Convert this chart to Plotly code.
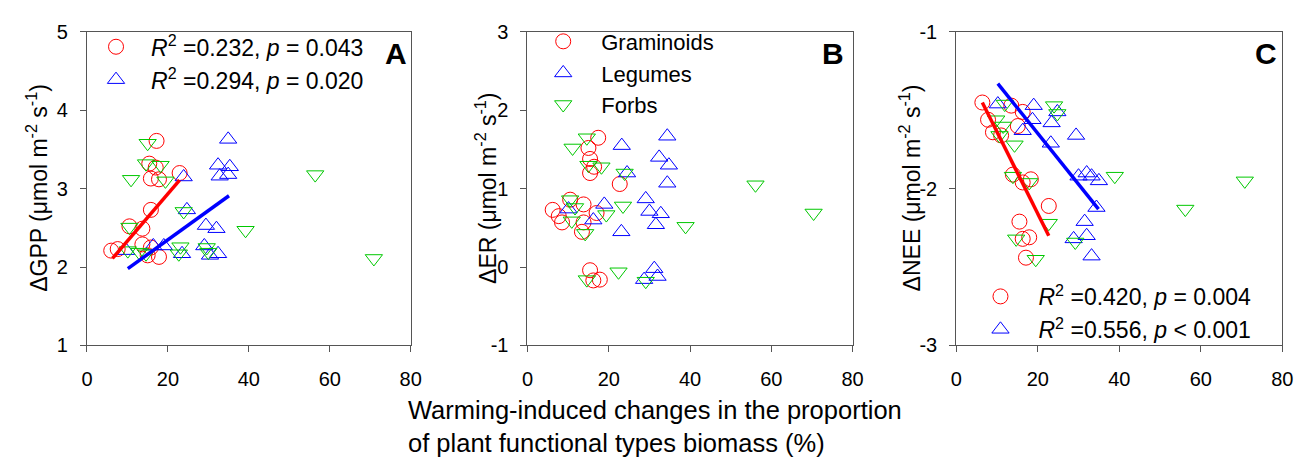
import plotly.graph_objects as go

# ---------------- data ----------------
x_ticks = [0, 20, 40, 60, 80]
x_ticklabels = ["0", "20", "40", "60", "80"]
yA_ticks = [1, 2, 3, 4, 5]
yA_labels = ["1", "2", "3", "4", "5"]
yB_ticks = [-1, 0, 1, 2, 3]
yB_labels = ["-1", "0", "1", "2", "3"]
yC_ticks = [-3, -2, -1]
yC_labels = ["-3", "-2", "-1"]

# Panel A: GPP
gram_x_A = [17.2, 15.4, 17.0, 15.8, 17.8, 22.9, 15.8, 10.5, 13.7, 6.0, 7.6, 13.7, 15.8, 17.8, 15.0]
gram_y_A = [3.61, 3.32, 3.27, 3.13, 3.12, 3.20, 2.73, 2.52, 2.49, 2.21, 2.23, 2.29, 2.25, 2.13, 2.15]
leg_x_A = [34.9, 32.4, 35.3, 34.9, 32.8, 23.9, 24.7, 29.4, 32.0, 29.0, 30.4, 32.4, 23.5, 19.0, 16.4, 9.7]
leg_y_A = [3.63, 3.30, 3.28, 3.18, 3.16, 3.15, 2.73, 2.53, 2.49, 2.27, 2.15, 2.17, 2.17, 2.27, 2.27, 2.21]
forb_x_A = [15.0, 14.6, 18.2, 10.9, 19.4, 23.9, 10.5, 10.1, 12.9, 14.6, 23.1, 29.6, 39.2, 56.4, 70.9, 22.7, 30.0]
forb_y_A = [3.58, 3.32, 3.30, 3.12, 3.10, 2.71, 2.51, 2.21, 2.19, 2.17, 2.26, 2.25, 2.47, 3.18, 2.11, 2.17, 2.19]

# Panel B: ER
gram_x_B = [17.4, 15.0, 15.4, 16.4, 15.4, 22.7, 6.2, 7.7, 8.5, 10.5, 13.8, 13.8, 13.4, 15.4, 16.2, 17.8, 17.0]
gram_y_B = [1.65, 1.52, 1.38, 1.28, 1.20, 1.06, 0.73, 0.65, 0.57, 0.86, 0.80, 0.57, 0.45, -0.04, -0.17, -0.16, 0.69]
leg_x_B = [34.4, 23.2, 32.4, 34.8, 24.5, 34.4, 29.1, 30.0, 32.8, 31.6, 23.1, 18.9, 16.2, 10.1, 31.2, 32.0, 28.7]
leg_y_B = [1.67, 1.55, 1.40, 1.30, 1.20, 1.07, 0.87, 0.71, 0.68, 0.54, 0.45, 0.80, 0.60, 0.74, -0.02, -0.12, -0.16]
forb_x_B = [14.6, 11.1, 18.2, 23.9, 23.5, 38.9, 56.1, 70.4, 10.5, 11.7, 10.9, 14.2, 19.4, 14.6, 22.4, 29.1, 15.0]
forb_y_B = [1.65, 1.52, 1.28, 1.20, 0.78, 0.52, 1.05, 0.69, 0.86, 0.76, 0.59, 0.43, 0.67, -0.16, -0.06, -0.18, 1.30]

# Panel C: NEE
gram_x_C = [6.4, 7.8, 9.0, 11.0, 13.5, 16.3, 15.1, 13.9, 16.3, 18.3, 22.7, 15.5, 16.3, 17.9, 17.1]
gram_y_C = [-1.45, -1.56, -1.64, -1.66, -1.47, -1.51, -1.60, -1.91, -1.96, -1.94, -2.11, -2.21, -2.32, -2.31, -2.44]
leg_x_C = [10.2, 19.0, 24.8, 18.7, 16.3, 23.4, 29.4, 23.2, 30.0, 32.0, 33.2, 35.0, 34.4, 31.5, 32.0, 28.8, 33.2]
leg_y_C = [-1.46, -1.47, -1.51, -1.56, -1.63, -1.58, -1.66, -1.71, -1.92, -1.90, -1.92, -1.95, -2.12, -2.21, -2.30, -2.32, -2.43]
forb_x_C = [11.9, 24.0, 24.8, 9.8, 11.5, 10.6, 14.3, 13.9, 17.9, 38.9, 70.8, 56.2, 22.7, 14.7, 29.2, 19.5]
forb_y_C = [-1.46, -1.47, -1.52, -1.56, -1.60, -1.66, -1.72, -1.92, -1.96, -1.92, -1.95, -2.13, -2.22, -2.32, -2.34, -2.45]

# regression lines (end points)
fitA_gram_x = [6.3, 22.9]
fitA_gram_y = [2.11, 3.11]
fitA_leg_x = [10.1, 35.1]
fitA_leg_y = [1.98, 2.91]
fitC_gram_x = [6.4, 22.7]
fitC_gram_y = [-1.45, -2.30]
fitC_leg_x = [10.2, 34.9]
fitC_leg_y = [-1.33, -2.13]

statsA = ["<i>R</i><sup>2</sup> =0.232, <i>p</i> = 0.043", "<i>R</i><sup>2</sup> =0.294, <i>p</i> = 0.020"]
statsC = ["<i>R</i><sup>2</sup> =0.420, <i>p</i> = 0.004", "<i>R</i><sup>2</sup> =0.556, <i>p</i> &lt; 0.001"]
group_names = ["Graminoids", "Legumes", "Forbs"]

# ---------------- styling ----------------
W, H = 1316, 467
RED, BLUE, GREEN = "#FF0000", "#0000FF", "#00C800"
FONT = "Liberation Sans, Arial, sans-serif"
MS = 15
sym = {"g": "circle-open", "l": "triangle-up-open", "f": "triangle-down-open"}
col = {"g": RED, "l": BLUE, "f": GREEN}

fig = go.Figure()

def pts(x, y, k, ax):
    fig.add_trace(go.Scatter(x=x, y=y, mode="markers", xaxis="x" + ax, yaxis="y" + ax,
                             marker=dict(symbol=sym[k], size=MS, color=col[k], line=dict(width=1, color=col[k])),
                             showlegend=False, hoverinfo="x+y"))

def fit(x, y, c, ax):
    fig.add_trace(go.Scatter(x=x, y=y, mode="lines", xaxis="x" + ax, yaxis="y" + ax,
                             line=dict(color=c, width=3.5), showlegend=False))

def leg(name, k, ax, legend):
    fig.add_trace(go.Scatter(x=[None], y=[None], mode="markers", xaxis="x" + ax, yaxis="y" + ax,
                             marker=dict(symbol=sym[k], size=MS, color=col[k], line=dict(width=1, color=col[k])),
                             name=name, legend=legend, legendgroup=legend + name, showlegend=True))

# panel A (axis id "" -> x / y)
pts(gram_x_A, gram_y_A, "g", "")
pts(leg_x_A, leg_y_A, "l", "")
pts(forb_x_A, forb_y_A, "f", "")
fit(fitA_gram_x, fitA_gram_y, RED, "")
fit(fitA_leg_x, fitA_leg_y, BLUE, "")
# panel B
pts(gram_x_B, gram_y_B, "g", "2")
pts(leg_x_B, leg_y_B, "l", "2")
pts(forb_x_B, forb_y_B, "f", "2")
# panel C
pts(gram_x_C, gram_y_C, "g", "3")
pts(leg_x_C, leg_y_C, "l", "3")
pts(forb_x_C, forb_y_C, "f", "3")
fit(fitC_gram_x, fitC_gram_y, RED, "3")
fit(fitC_leg_x, fitC_leg_y, BLUE, "3")

leg(statsA[0], "g", "", "legend")
leg(statsA[1], "l", "", "legend")
leg(group_names[0], "g", "2", "legend2")
leg(group_names[1], "l", "2", "legend2")
leg(group_names[2], "f", "2", "legend2")
leg(statsC[0], "g", "3", "legend3")
leg(statsC[1], "l", "3", "legend3")

def px(v):
    return v / W

def py(v):
    return 1 - v / H

ydom = [py(351), py(22)]
axcommon = dict(showline=True, mirror=True, linecolor="#555", linewidth=1, ticks="outside", ticklen=6,
                tickcolor="#555", showgrid=False, zeroline=False, tickfont=dict(family=FONT, size=20, color="black"))

layout = dict(width=W, height=H, margin=dict(l=0, r=0, t=0, b=0), plot_bgcolor="white", paper_bgcolor="white",
              font=dict(family=FONT, color="black"))
for ax, (x0, x1), yt, yl, yr in [("", (82, 410), yA_ticks, yA_labels, [1, 5]),
                                 ("2", (528.3, 857.7), yB_ticks, yB_labels, [-1, 3]),
                                 ("3", (962.7, 1293), yC_ticks, yC_labels, [-3, -1])]:
    layout["xaxis" + ax] = dict(domain=[px(x0), px(x1)], range=[0, 80], tickvals=x_ticks, ticktext=x_ticklabels,
                                anchor="y" + ax, ticklabelstandoff=10, **axcommon)
    layout["yaxis" + ax] = dict(domain=ydom, range=yr, tickvals=yt, ticktext=yl, anchor="x" + ax,
                                ticklabelstandoff=8, **axcommon)

legfont = dict(family=FONT, size=23, color="black")
layout["legend"] = dict(x=px(76), y=py(15), xanchor="left", yanchor="top", bgcolor="rgba(0,0,0,0)",
                        font=legfont, itemwidth=60, tracegroupgap=0, itemclick=False)
layout["legend2"] = dict(x=px(526), y=py(10), xanchor="left", yanchor="top", bgcolor="rgba(0,0,0,0)",
                         font=dict(family=FONT, size=22, color="black"), itemwidth=66, tracegroupgap=0,
                         itemclick=False)
layout["legend3"] = dict(x=px(969), y=py(277), xanchor="left", yanchor="top", bgcolor="rgba(0,0,0,0)",
                         font=legfont, itemwidth=66, tracegroupgap=0, itemclick=False)

ann = []
for txt, x in [("A", 395), ("B", 838), ("C", 1276)]:
    ann.append(dict(text="<b>%s</b>" % txt, x=px(x), y=py(45), xref="paper", yref="paper", showarrow=False,
                    xanchor="center", yanchor="middle", font=dict(family=FONT, size=30, color="black")))
unit = " (μmol m<sup>-2</sup> s<sup>-1</sup>)"
for txt, x in [("ΔGPP", 32), ("ΔER", 487), ("ΔNEE", 916)]:
    ann.append(dict(text=txt + unit, x=px(x), y=py(186), xref="paper", yref="paper", showarrow=False,
                    xanchor="center", yanchor="middle", textangle=-90,
                    font=dict(family=FONT, size=23, color="black")))
ann.append(dict(text="Warming-induced changes in the proportion<br>of plant functional types biomass (%)",
                x=px(405), y=py(436), xref="paper", yref="paper", showarrow=False, align="left",
                xanchor="left", yanchor="middle", font=dict(family=FONT, size=25.5, color="black")))
layout["annotations"] = ann

fig.update_layout(**layout)
fig.write_html("out.html", config={"displayModeBar": False},
               post_script="document.body.style.margin='0';document.body.style.overflow='hidden';")
